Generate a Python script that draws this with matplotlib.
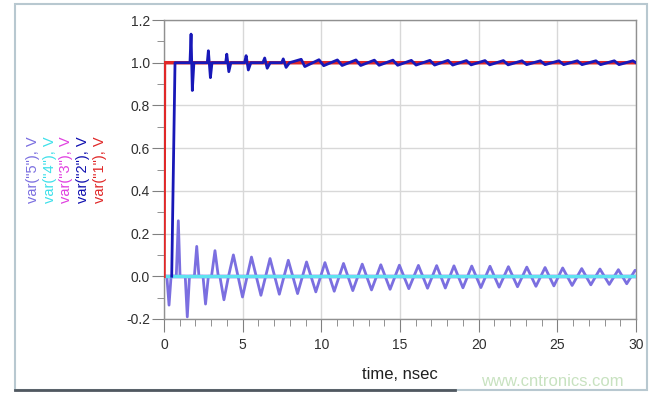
import numpy as np
import matplotlib.pyplot as plt
from matplotlib.patches import Rectangle
from matplotlib.ticker import MultipleLocator

plt.rcParams['font.family'] = ['Liberation Sans', 'DejaVu Sans']

# var("1") - red step
t1 = [0, 0.03, 30]
v1 = [0, 1.0, 1.0]

# var("2") - blue step with ringing
t2 = [0.49, 0.70, 1.65, 1.72, 1.80, 1.90, 2.75, 2.82, 2.95, 3.05,
      3.92, 3.99, 4.12, 4.25, 5.12, 5.22, 5.36, 5.52, 6.28, 6.40, 6.56, 6.75,
      7.48, 7.58, 7.76, 7.98, 8.72, 8.95, 9.85, 10.15, 11.02, 11.32, 12.2, 12.5,
      13.37, 13.67, 14.55, 14.85, 15.72, 16.02, 16.9, 17.2, 18.05, 18.35,
      19.22, 19.52, 20.4, 20.7, 21.57, 21.87, 22.75, 23.05, 23.92, 24.22,
      25.1, 25.4, 26.27, 26.57, 27.45, 27.75, 28.62, 28.92, 29.8, 30]
v2 = [0, 1.0, 1.0, 1.134, 0.87, 1.0, 1.0, 1.056, 0.93, 1.0,
      1.0, 1.04, 0.958, 1.0, 1.0, 1.033, 0.966, 1.0, 1.0, 1.022, 0.974, 1.0,
      1.0, 1.018, 0.978, 1.0, 1.016, 0.982, 1.014, 0.986, 1.013, 0.987, 1.013, 0.987,
      1.012, 0.988, 1.012, 0.988, 1.011, 0.989, 1.011, 0.989, 1.011, 0.989,
      1.010, 0.990, 1.010, 0.990, 1.010, 0.990, 1.009, 0.991, 1.009, 0.991,
      1.009, 0.991, 1.009, 0.991, 1.009, 0.991, 1.009, 0.991, 1.009, 1.0]

# var("3") - magenta, flat (hidden under var4)
t3 = [0, 30]
v3 = [0, 0]

# var("4") - cyan, flat
t4 = [0, 30]
v4 = [0, 0]

# var("5") - violet ringing
t5 = [0, 0.18, 0.32, 0.45, 0.78, 0.91, 1.02, 1.35, 1.48, 1.62, 1.93, 2.08, 2.22,
      2.48, 2.64, 2.82, 3.02, 3.24, 3.45, 3.55, 3.81, 4.10, 4.41, 4.99, 5.56,
      6.16, 6.74, 7.33, 7.90, 8.49, 9.06, 9.65, 10.23, 10.82, 11.41, 12.00,
      12.60, 13.19, 13.78, 14.37, 14.96, 15.56, 16.17, 16.75, 17.33, 17.88,
      18.43, 19.00, 19.56, 20.14, 20.72, 21.30, 21.89, 22.47, 23.06, 23.64,
      24.22, 24.78, 25.34, 25.94, 26.55, 27.13, 27.71, 28.30, 28.88, 29.41,
      29.94, 30]
v5 = [0, 0, -0.135, 0, 0, 0.26, 0, 0, -0.19, 0, 0, 0.14, 0,
      0, -0.13, 0, 0, 0.12, 0, 0, -0.11, 0, 0.10, -0.097, 0.09,
      -0.089, 0.083, -0.084, 0.075, -0.081, 0.067, -0.073, 0.064, -0.070, 0.060, -0.067,
      0.057, -0.064, 0.054, -0.061, 0.052, -0.058, 0.051, -0.056, 0.050, -0.055,
      0.049, -0.054, 0.048, -0.053, 0.047, -0.051, 0.045, -0.049, 0.043, -0.047,
      0.041, -0.045, 0.039, -0.043, 0.036, -0.040, 0.034, -0.038, 0.031, -0.035,
      0.028, 0.026]

labels = ['var("5"), V', 'var("4"), V', 'var("3"), V', 'var("2"), V', 'var("1"), V']
label_colors = ['#7b6fe0', '#3fe0ea', '#e040e0', '#1010b0', '#e02828']

fig = plt.figure(figsize=(6.56, 3.97), dpi=100)
ax = fig.add_axes([164/656, 78/397, 472/656, 299/397])

ax.plot(t3, v3, color='#e040e0', lw=2.5, zorder=2)
ax.plot(t5, v5, color='#7b6fe0', lw=2, zorder=3, solid_joinstyle='round')
ax.plot(t4, v4, color='#5fe3f0', lw=2.5, zorder=4)
ax.plot(t1, v1, color='#e02828', lw=2.5, zorder=5)
ax.plot(t2, v2, color='#1818b8', lw=2, zorder=6, solid_joinstyle='round')

ax.set_xlim(0, 30)
ax.set_ylim(-0.2, 1.2)
ax.xaxis.set_major_locator(MultipleLocator(5))
ax.xaxis.set_minor_locator(MultipleLocator(1))
ax.yaxis.set_minor_locator(MultipleLocator(0.1))
ax.set_yticks(np.arange(-0.2, 1.21, 0.2))
ax.set_yticklabels(['-0.2', '0.0', '0.2', '0.4', '0.6', '0.8', '1.0', '1.2'])
ax.grid(True, which='major', color='#d8d8d8', lw=1)
ax.set_axisbelow(True)
for s in ax.spines.values():
    s.set_color('#909090')
    s.set_linewidth(1)
ax.tick_params(which='major', length=9, color='#808080', labelsize=10,
               labelcolor='#303030')
ax.tick_params(which='minor', length=5, color='#808080')
ax.tick_params(axis='y', pad=1)
ax.tick_params(axis='x', pad=5)

ax.set_xlabel('time, nsec', fontsize=12, color='#202020')
ax.xaxis.set_label_coords(0.5, -0.187)
ax.xaxis.label.set_va('center')

# rotated legend labels on the left
xs = [33, 50, 66, 83, 100]
for x, txt, c in zip(xs, labels, label_colors):
    fig.text(x/656, 1 - 170/397, txt, rotation=90, color=c, fontsize=10.5,
             ha='center', va='center')

# outer frame
fig.patches.append(Rectangle((15/656, 7/397), 632/656, 386/397,
                             transform=fig.transFigure, fill=False,
                             edgecolor='#b8c8d0', lw=1.5))
fig.add_artist(plt.Line2D([15/656, 455/656], [7/397, 7/397],
                          transform=fig.transFigure, color='#505860', lw=2))

fig.text(552/656, 1 - 381/397, 'www.cntronics.com', color='#c8e2c0',
         fontsize=12, ha='center', va='center')

fig.savefig('out.png', dpi=100)
